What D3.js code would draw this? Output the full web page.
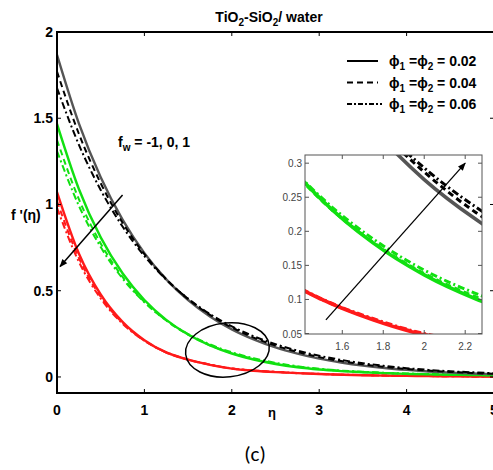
<!DOCTYPE html>
<html><head><meta charset="utf-8">
<script src="https://cdn.jsdelivr.net/npm/d3@7"></script>
<style>body{margin:0;background:#fff}svg{display:block}</style>
</head><body>
<script>
// ---------- data ----------
const eta = [0,0.25,0.5,0.75,1,1.25,1.5,1.75,2,2.25,2.5,2.75,3,3.25,3.5,3.75,4,4.25,4.5,4.75,5];
// f_w = -1 (black)
const blackPhi002 = [1.867,1.470,1.158,0.912,0.718,0.566,0.446,0.351,0.276,0.218,0.171,0.135,0.106,0.084,0.066,0.052,0.041,0.032,0.025,0.020,0.016];
const blackPhi004 = [1.770,1.410,1.123,0.894,0.712,0.567,0.452,0.360,0.287,0.228,0.182,0.145,0.115,0.092,0.073,0.058,0.046,0.037,0.029,0.023,0.019];
const blackPhi006 = [1.675,1.347,1.084,0.872,0.701,0.564,0.454,0.365,0.293,0.236,0.190,0.153,0.123,0.099,0.079,0.064,0.051,0.041,0.033,0.027,0.022];
// f_w = 0 (green)
const greenPhi002 = [1.467,1.090,0.809,0.601,0.446,0.331,0.246,0.183,0.136,0.101,0.075,0.056,0.043,0.034,0.027,0.022,0.018,0.015,0.013,0.011,0.010];
const greenPhi004 = [1.374,1.031,0.774,0.580,0.435,0.327,0.245,0.184,0.138,0.104,0.078,0.059,0.045,0.035,0.028,0.023,0.019,0.016,0.013,0.011,0.010];
const greenPhi006 = [1.310,0.993,0.753,0.571,0.433,0.328,0.249,0.189,0.143,0.109,0.082,0.062,0.048,0.037,0.030,0.024,0.020,0.017,0.014,0.012,0.010];
// f_w = 1 (red)
const redPhi002 = [1.072,0.716,0.478,0.319,0.213,0.142,0.100,0.070,0.048,0.036,0.028,0.022,0.017,0.013,0.010,0.008,0.006,0.005,0.004,0.003,0.002];
const redPhi004 = [1.020,0.690,0.465,0.313,0.211,0.142,0.100,0.071,0.049,0.037,0.029,0.022,0.017,0.013,0.010,0.008,0.006,0.005,0.004,0.003,0.002];
const redPhi006 = [0.980,0.668,0.455,0.309,0.210,0.143,0.101,0.072,0.050,0.038,0.030,0.023,0.018,0.014,0.011,0.008,0.006,0.005,0.004,0.003,0.002];

const xTicks = [0,1,2,3,4,5];
const yTicks = [0,0.5,1,1.5,2];
const insetXTicks = [1.6,1.8,2,2.2];
const insetYTicks = [0.05,0.1,0.15,0.2,0.25,0.3];
const legendLabels = ["0.02","0.04","0.06"];
const fwLabel = "= -1, 0, 1";

// ---------- styles ----------
const styles = {
  s:  {dash:null, w:2.4},
  d:  {dash:"6,4", w:2},
  dd: {dash:"7,3,2,3", w:2}
};
const series = [
  {v:redPhi002, c:"#ff1a1a", st:"s"},
  {v:redPhi004, c:"#ff1a1a", st:"d"},
  {v:redPhi006, c:"#ff1a1a", st:"dd"},
  {v:greenPhi002, c:"#11e011", st:"s"},
  {v:greenPhi004, c:"#11e011", st:"d"},
  {v:greenPhi006, c:"#11e011", st:"dd"},
  {v:blackPhi002, c:"#555555", st:"s"},
  {v:blackPhi004, c:"#000000", st:"d"},
  {v:blackPhi006, c:"#000000", st:"dd"}
];

const W=493,H=470;
const svg = d3.select("body").append("svg").attr("width",W).attr("height",H);
const defs = svg.append("defs");
defs.append("marker").attr("id","ah").attr("viewBox","0 0 10 10").attr("refX",9).attr("refY",5)
  .attr("markerWidth",10).attr("markerHeight",8).attr("markerUnits","userSpaceOnUse").attr("orient","auto")
  .append("path").attr("d","M0,1 L10,5 L0,9 Z").attr("fill","#000");

const x = d3.scaleLinear().domain([0,5]).range([57,494]);
const y = d3.scaleLinear().domain([-0.093,2]).range([393,32]);

defs.append("clipPath").attr("id","cm").append("rect")
  .attr("x",x(0)).attr("y",y(2)).attr("width",x(5)-x(0)).attr("height",y(-0.093)-y(2));

const font = "'Liberation Sans', Arial, sans-serif";

// curves
const g = svg.append("g").attr("clip-path","url(#cm)");
function drawSeries(sel, xs, ys, widthScale){
  series.forEach(s=>{
    const line = d3.line().x((d,i)=>xs(eta[i])).y(d=>ys(d)).curve(d3.curveMonotoneX);
    sel.append("path").attr("d",line(s.v)).attr("fill","none").attr("stroke",s.c)
      .attr("stroke-width",styles[s.st].w*widthScale)
      .attr("stroke-dasharray",styles[s.st].dash);
  });
}
drawSeries(g,x,y,1);

// axes frame
const ax = svg.append("g").attr("font-family",font).attr("font-weight","bold").attr("font-size",14);
ax.append("line").attr("x1",x(0)).attr("x2",x(5)).attr("y1",y(-0.093)).attr("y2",y(-0.093)).attr("stroke","#000").attr("stroke-width",2);
ax.append("line").attr("x1",x(0)).attr("x2",x(5)).attr("y1",y(2)).attr("y2",y(2)).attr("stroke","#000").attr("stroke-width",2);
ax.append("line").attr("x1",x(0)).attr("x2",x(0)).attr("y1",y(2)-1).attr("y2",y(-0.093)+1).attr("stroke","#000").attr("stroke-width",2);
xTicks.forEach(t=>{
  ax.append("line").attr("x1",x(t)).attr("x2",x(t)).attr("y1",y(-0.093)).attr("y2",y(-0.093)-4).attr("stroke","#000");
  ax.append("line").attr("x1",x(t)).attr("x2",x(t)).attr("y1",y(2)).attr("y2",y(2)+4).attr("stroke","#000");
  ax.append("text").attr("x",x(t)).attr("y",y(-0.093)+22).attr("text-anchor","middle").text(d3.format("d")(t));
});
yTicks.forEach(t=>{
  ax.append("line").attr("x1",x(0)).attr("x2",x(0)+4).attr("y1",y(t)).attr("y2",y(t)).attr("stroke","#000");
  ax.append("line").attr("x1",x(5)-4).attr("x2",x(5)).attr("y1",y(t)).attr("y2",y(t)).attr("stroke","#000");
  ax.append("text").attr("x",x(0)-4).attr("y",y(t)+5).attr("text-anchor","end").text(t===0?"0":String(t));
});

// title
const title = svg.append("text").attr("x",269).attr("y",22).attr("text-anchor","middle")
  .attr("font-family",font).attr("font-weight","bold").attr("font-size",14);
title.append("tspan").text("TiO");
title.append("tspan").attr("font-size",10).attr("dy",4).text("2");
title.append("tspan").attr("dy",-4).text("-SiO");
title.append("tspan").attr("font-size",10).attr("dy",4).text("2");
title.append("tspan").attr("dy",-4).text("/ water");

// axis labels
svg.append("text").attr("x",11).attr("y",220).attr("font-family",font).attr("font-weight","bold").attr("font-size",14).text("f '(η)");
svg.append("text").attr("x",272).attr("y",417).attr("text-anchor","middle").attr("font-family",font).attr("font-weight","bold").attr("font-size",13).text("η");
svg.append("text").attr("x",255).attr("y",461).attr("text-anchor","middle").attr("font-family","Carlito, 'Open Sans', sans-serif").attr("font-size",21).text("(c)");

// fw label
const fw = svg.append("text").attr("x",118).attr("y",147).attr("font-family",font).attr("font-weight","bold").attr("font-size",14);
fw.append("tspan").text("f");
fw.append("tspan").attr("font-size",10).attr("dy",4).text("w");
fw.append("tspan").attr("dy",-4).text(" "+fwLabel);

// main arrow
svg.append("line").attr("x1",x(0.75)).attr("y1",y(1.055)).attr("x2",x(0.035)).attr("y2",y(0.64))
  .attr("stroke","#000").attr("stroke-width",1.5).attr("marker-end","url(#ah)");

// ellipse
svg.append("ellipse").attr("cx",x(1.95)).attr("cy",y(0.157)).attr("rx",42).attr("ry",27)
  .attr("transform",`rotate(-6,${x(1.95)},${y(0.157)})`)
  .attr("fill","none").attr("stroke","#000").attr("stroke-width",1.5);

// legend
const lg = svg.append("g").attr("font-family",font).attr("font-weight","bold").attr("font-size",14);
["s","d","dd"].forEach((st,i)=>{
  const yy = 61 + i*21.5;
  lg.append("line").attr("x1",347).attr("x2",st==="dd"?382:378).attr("y1",yy).attr("y2",yy)
    .attr("stroke","#000").attr("stroke-width",2).attr("stroke-dasharray",st==="s"?null:(st==="d"?"6,4":"5,2,2,2"));
  const t = lg.append("text").attr("x",389).attr("y",yy+5);
  t.append("tspan").text("ϕ");
  t.append("tspan").attr("font-size",10).attr("dy",4).text("1");
  t.append("tspan").attr("dy",-4).text(" =ϕ");
  t.append("tspan").attr("font-size",10).attr("dy",4).text("2");
  t.append("tspan").attr("dy",-4).text(" = "+legendLabels[i]);
});

// ---------- inset ----------
const ix = d3.scaleLinear().domain([1.418,2.282]).range([305,482]);
const iy = d3.scaleLinear().domain([0.0493,0.312]).range([334,155]);
svg.append("rect").attr("x",305).attr("y",155).attr("width",177).attr("height",179).attr("fill","#fff");
defs.append("clipPath").attr("id","ci").append("rect").attr("x",305).attr("y",155).attr("width",177).attr("height",179);
const gi = svg.append("g").attr("clip-path","url(#ci)");
drawSeries(gi,ix,iy,1.5);
const ia = svg.append("g").attr("font-family",font).attr("font-size",10).attr("fill","#444");
ia.append("rect").attr("x",305).attr("y",155).attr("width",177).attr("height",179).attr("fill","none").attr("stroke","#555").attr("stroke-width",1);
insetXTicks.forEach(t=>{
  ia.append("line").attr("x1",ix(t)).attr("x2",ix(t)).attr("y1",334).attr("y2",330).attr("stroke","#555");
  ia.append("line").attr("x1",ix(t)).attr("x2",ix(t)).attr("y1",155).attr("y2",159).attr("stroke","#555");
  ia.append("text").attr("x",ix(t)).attr("y",350).attr("text-anchor","middle").text(String(t));
});
insetYTicks.forEach(t=>{
  ia.append("line").attr("x1",305).attr("x2",309).attr("y1",iy(t)).attr("y2",iy(t)).attr("stroke","#555");
  ia.append("line").attr("x1",478).attr("x2",482).attr("y1",iy(t)).attr("y2",iy(t)).attr("stroke","#555");
  ia.append("text").attr("x",302).attr("y",iy(t)+4).attr("text-anchor","end").text(String(t));
});
svg.append("line").attr("x1",ix(1.52)).attr("y1",iy(0.07)).attr("x2",ix(2.2)).attr("y2",iy(0.3))
  .attr("stroke","#000").attr("stroke-width",1.3).attr("marker-end","url(#ah)");
</script>
</body></html>
